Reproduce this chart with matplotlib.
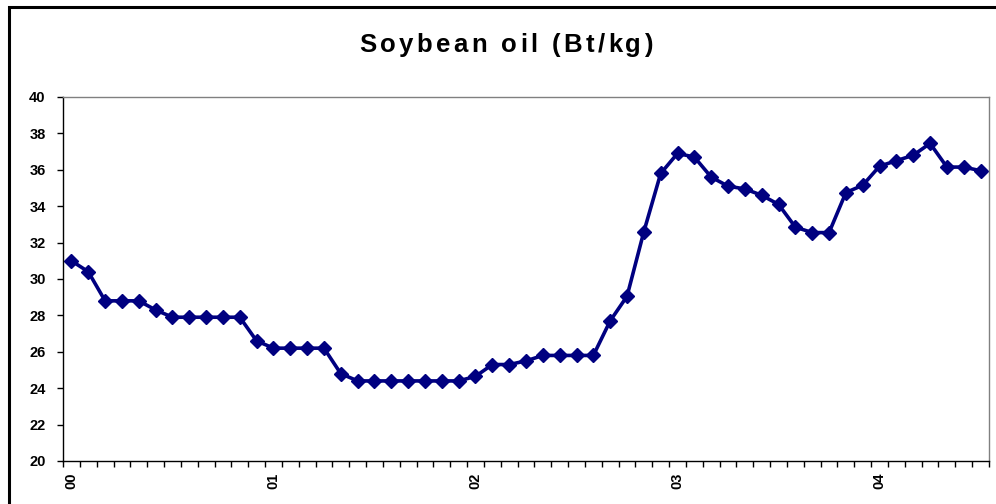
import matplotlib
matplotlib.use('Agg')
from matplotlib import pyplot as plt
from matplotlib.patches import Rectangle
from matplotlib.font_manager import FontProperties
import numpy as np

# monthly prices, Jan 2000 - Jul 2004
prices = [31.0, 30.4, 28.8, 28.8, 28.8, 28.3, 27.9, 27.9, 27.9, 27.9, 27.9, 26.6,
          26.2, 26.2, 26.2, 26.2, 24.8, 24.4, 24.4, 24.4, 24.4, 24.4, 24.4, 24.4,
          24.65, 25.3, 25.3, 25.5, 25.8, 25.8, 25.8, 25.8, 27.7, 29.05, 32.6, 35.8,
          36.9, 36.7, 35.6, 35.1, 34.95, 34.6, 34.1, 32.85, 32.55, 32.55, 34.75, 35.15,
          36.2, 36.5, 36.8, 37.45, 36.15, 36.15, 35.95]
year_labels = ['00', '01', '02', '03', '04']
title = 'Soybean oil (Bt/kg)'

plt.rcParams['font.family'] = ['Liberation Sans', 'DejaVu Sans']

fig = plt.figure(figsize=(9.96, 5.04), dpi=100)
ax = fig.add_axes([63 / 996, 43 / 504, 926 / 996, 364 / 504])

x = np.arange(len(prices))
ax.plot(x, prices, color='#000080', lw=2.6, marker='D', ms=7.5, mec='#000080', mfc='#000080')

ax.set_xlim(-0.5, len(prices) - 0.5)
ax.set_ylim(20, 40)
yt = np.arange(20, 41, 2)
ax.set_yticks(yt)
ax.set_yticklabels([str(v) for v in yt], fontsize=10.5, fontweight='bold')
ax.set_xticks(np.arange(len(prices) + 1) - 0.5)
ax.set_xticklabels([])
ax.set_xticks(np.arange(0, len(prices), 12), minor=True)
ax.set_xticklabels(year_labels, minor=True, rotation=90, fontsize=10.5, fontweight='bold')
ax.tick_params(axis='both', which='major', direction='out', length=4.5, width=1, color='black')
ax.tick_params(axis='x', which='minor', length=0, pad=8.5)
ax.tick_params(axis='y', pad=8)

for s in ['left', 'bottom']:
    ax.spines[s].set_color('black')
    ax.spines[s].set_linewidth(1)
for s in ['top', 'right']:
    ax.spines[s].set_color('#808080')
    ax.spines[s].set_linewidth(1)

# outer chart border (only left and top visible)
fig.patches.append(Rectangle((9 / 996, -0.2), 1.2, (504 - 7) / 504 + 0.2,
                             transform=fig.transFigure, fill=False,
                             edgecolor='black', lw=2.2))

# letter-spaced title
fp = FontProperties(family=['Liberation Sans', 'DejaVu Sans'], weight='bold', size=18.5)
r = fig.canvas.get_renderer()
bar_w = r.get_text_width_height_descent('|', fp, ismath=False)[0]
adv = []
for i in range(len(title) + 1):
    w = r.get_text_width_height_descent(title[:i] + '|', fp, ismath=False)[0] - bar_w
    adv.append(w)
gap = (294 - adv[-1]) / (len(title) - 1)
total = adv[-1] + gap * (len(title) - 1)
x0 = 506 - total / 2
for i, ch in enumerate(title):
    fig.text((x0 + adv[i] + gap * i) / 996, 1 - 52 / 504, ch, fontproperties=fp,
             ha='left', va='baseline')

fig.savefig('out.png', dpi=100)
